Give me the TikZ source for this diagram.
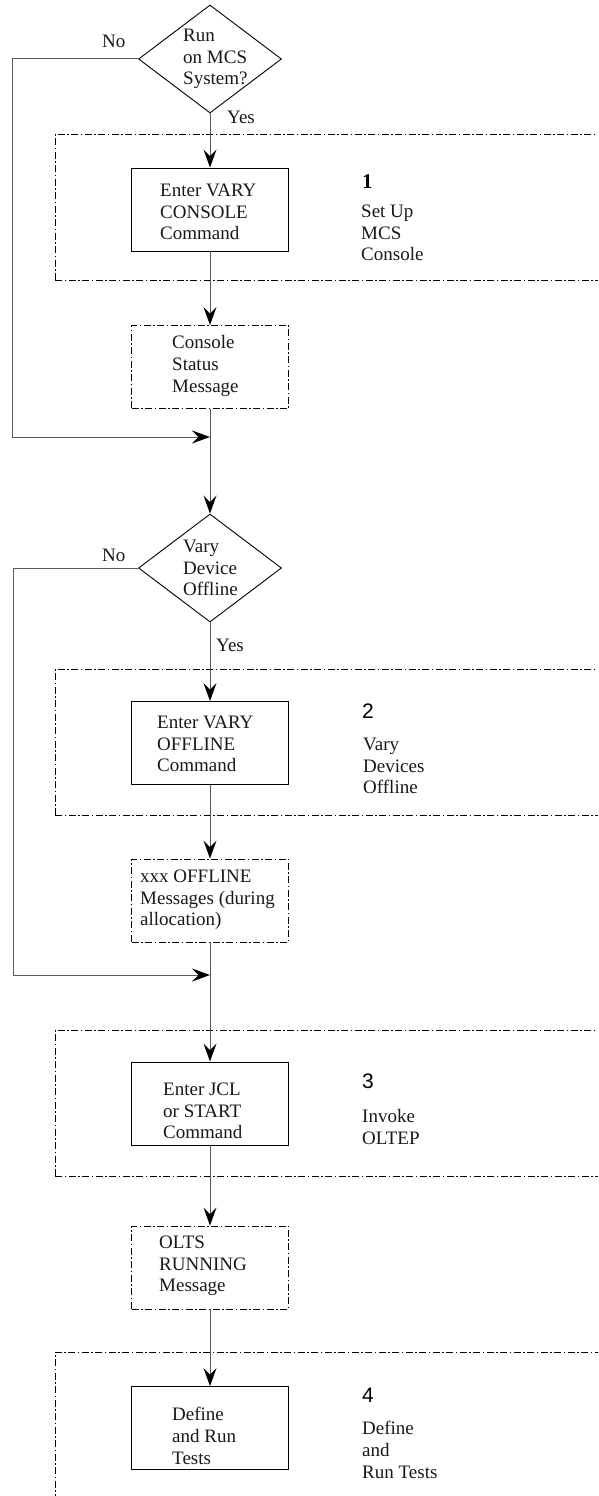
\documentclass[tikz,border=0pt]{standalone}
\usepackage{fontspec}
\setmainfont{Liberation Serif}
\newfontfamily\numfont{Liberation Sans}
\usetikzlibrary{shapes.geometric,arrows.meta}

\begin{document}
\begin{tikzpicture}[x=1pt,y=-1pt,
  txt/.style={font=\fontsize{19}{21.7}\selectfont, inner sep=0pt, align=left, text=black!90},
  dashdot/.style={dash pattern=on 7pt off 2.5pt on 1.5pt off 2.5pt},
  cmdbox/.style={draw, line width=0.9pt, minimum width=157pt, minimum height=83pt, inner sep=0pt},
  msgbox/.style={cmdbox, dashdot},
  decision/.style={diamond, draw, line width=0.9pt, minimum width=143pt, minimum height=108pt, inner sep=0pt},
  group/.style={draw, line width=0.9pt, dashdot, anchor=north west, minimum width=600pt, inner sep=0pt},
  flow/.style={draw=black!65, line width=1pt, -{Stealth[length=18pt,width=13pt,inset=6.5pt,color=black]}},
  stepnum/.style={font=\numfont\fontsize{21}{24}\selectfont, inner sep=0pt, anchor=base west}
]
\useasboundingbox (0,0) rectangle (598,1496);
\fill[white] (0,0) rectangle (598,1496);
\clip (0,0) rectangle (598,1496);

% phase frames
\node[group, minimum height=146pt] (grp1) at (55,134) {};
\node[group, minimum height=146pt] (grp2) at (55,669) {};
\node[group, minimum height=146pt] (grp3) at (55,1030) {};
\node[group, minimum height=170pt] (grp4) at (55,1352) {};

% decisions
\node[decision] (d1) at (210,59) {};
\node[decision] (d2) at (210,568) {};
\node[txt, anchor=west] (d1t) at (183,59) {Run\\on MCS\\System?};
\node[txt, anchor=west] (d2t) at (183,568) {Vary\\Device\\Offline};

% command boxes
\node[cmdbox] (b1) at (210,209.5) {};
\node[cmdbox] (b2) at (210,743) {};
\node[cmdbox] (b3) at (210,1103.5) {};
\node[cmdbox] (b4) at (210,1428) {};
\node[txt, anchor=west] (b1t) at (160,212) {Enter VARY\\CONSOLE\\Command};
\node[txt, anchor=west] (b2t) at (157,744) {Enter VARY\\OFFLINE\\Command};
\node[txt, anchor=west] (b3t) at (163,1111) {Enter JCL\\or START\\Command};
\node[txt, anchor=west] (b4t) at (172,1436) {Define\\and Run\\Tests};

% message boxes
\node[msgbox] (m1) at (210,367) {};
\node[msgbox] (m2) at (210,900.5) {};
\node[msgbox] (m3) at (210,1267.5) {};
\node[txt, anchor=west] (m1t) at (172,366) {Console\\Status\\Message};
\node[txt, anchor=west] (m2t) at (140,900) {xxx OFFLINE\\Messages (during\\allocation)};
\node[txt, anchor=west] (m3t) at (159,1266) {OLTS\\RUNNING\\Message};

% phase captions
\node[stepnum, font=\bfseries\fontsize{21}{24}\selectfont] (n1) at (362,188) {1};
\node[stepnum] (n2) at (362,718) {2};
\node[stepnum] (n3) at (362,1088.5) {3};
\node[stepnum] (n4) at (362,1402) {4};
\node[txt, anchor=west] (c1) at (361,233) {Set Up\\MCS\\Console};
\node[txt, anchor=west] (c2) at (363,766) {Vary\\Devices\\Offline};
\node[txt, anchor=west] (c3) at (362,1127) {Invoke\\OLTEP};
\node[txt, anchor=west] (c4) at (362,1450) {Define\\and\\Run Tests};

% branch labels
\node[txt, anchor=base west] (no1) at (102,48) {No};
\node[txt, anchor=base west] (no2) at (102,561) {No};
\node[txt, anchor=base west] (yes1) at (227,123) {Yes};
\node[txt, anchor=base west] (yes2) at (216,651) {Yes};

% junctions on the main line and corners of the bypass lines
\coordinate (j1) at (210,437);
\coordinate (j2) at (210,975);
\coordinate (k1) at (12,437);
\coordinate (k2) at (13,975);

% main flow
\draw[flow] (d1.south) -- (b1.north);
\draw[flow] (b1.south) -- (m1.north);
\draw[flow] (m1.south) -- (d2.north);
\draw[flow] (d2.south) -- (b2.north);
\draw[flow] (b2.south) -- (m2.north);
\draw[flow] (m2.south) -- (b3.north);
\draw[flow] (b3.south) -- (m3.north);
\draw[flow] (m3.south) -- (b4.north);

% "No" bypasses
\draw[flow] (d1.west) -| (k1) -- (j1);
\draw[flow] (d2.west) -| (k2) -- (j2);
\end{tikzpicture}
\end{document}
